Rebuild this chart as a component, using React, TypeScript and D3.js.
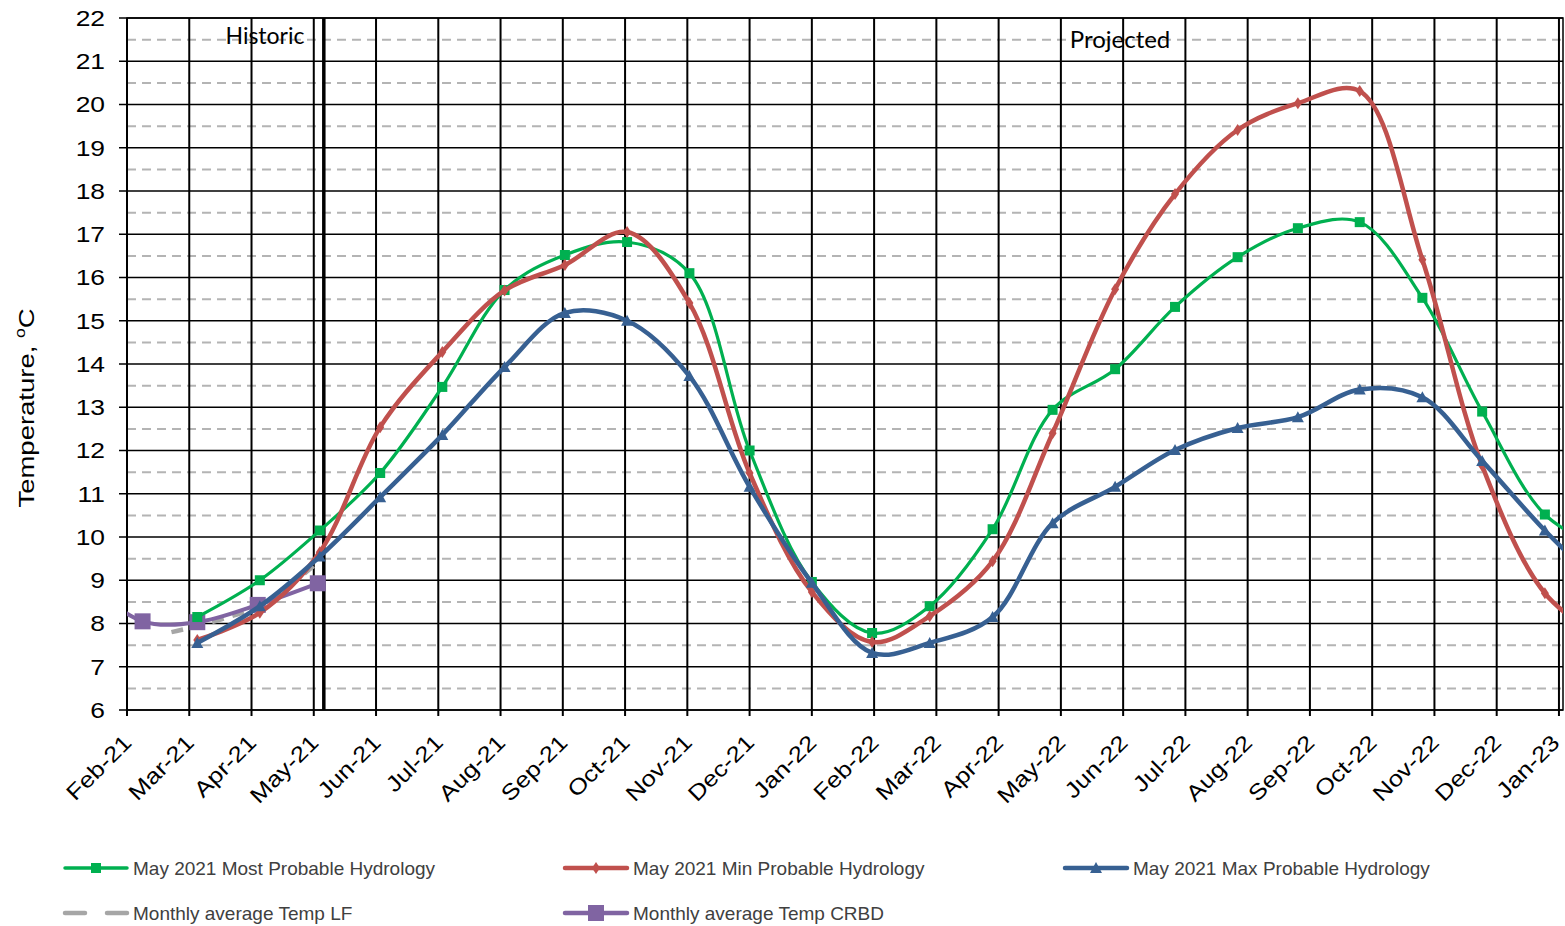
import React from "react";
import * as d3 from "d3";

// month ticks on the x axis
const monthLabels = [
  "Feb-21", "Mar-21", "Apr-21", "May-21", "Jun-21", "Jul-21", "Aug-21", "Sep-21",
  "Oct-21", "Nov-21", "Dec-21", "Jan-22", "Feb-22", "Mar-22", "Apr-22", "May-22",
  "Jun-22", "Jul-22", "Aug-22", "Sep-22", "Oct-22", "Nov-22", "Dec-22", "Jan-23",
];

// dates shared by the three hydrology runs
const hydroDates = [
  "2021-03-05", "2021-04-05", "2021-05-04", "2021-06-03", "2021-07-03", "2021-08-03",
  "2021-09-02", "2021-10-02", "2021-11-02", "2021-12-01", "2022-01-01", "2022-01-31",
  "2022-02-26", "2022-03-29", "2022-04-27", "2022-05-28", "2022-06-26", "2022-07-27",
  "2022-08-26", "2022-09-25", "2022-10-26", "2022-11-24", "2022-12-25", "2023-01-24",
];
const mostProbable = [
  8.15, 9.0, 10.15, 11.48, 13.47, 15.71, 16.52, 16.82, 16.1, 12.0, 8.96, 7.78,
  8.4, 10.18, 12.94, 13.88, 15.32, 16.47, 17.14, 17.28, 15.53, 12.9, 10.52, 9.7,
];
const minProbable = [
  7.62, 8.25, 9.65, 12.54, 14.28, 15.7, 16.29, 17.05, 15.41, 11.48, 8.73, 7.57,
  8.17, 9.44, 12.4, 15.73, 17.93, 19.41, 20.03, 20.31, 16.41, 11.65, 8.7, 7.6,
];
const maxProbable = [
  7.55, 8.4, 9.55, 10.92, 12.36, 13.93, 15.18, 15.0, 13.72, 11.16, 8.94, 7.32,
  7.55, 8.15, 10.32, 11.16, 12.01, 12.52, 12.77, 13.41, 13.23, 11.76, 10.15, 8.8,
];

// observed monthly averages
const lfDates = ["2021-02-21", "2021-04-04", "2021-05-04"];
const lfTemps = [7.8, 8.4, 9.45];
const crbdDates = ["2021-01-10", "2021-02-08", "2021-03-05", "2021-04-04", "2021-05-03"];
const crbdTemps = [9.0, 8.05, 8.03, 8.43, 8.93];

const dividerDate = "2021-05-06";

const W = 1565;
const H = 926;
const left = 127;
const right = 1563;
const top = 18;
const bottom = 710;

// fractional month index counted from Feb-21
const monthPos = (s: string) => {
  const d = new Date(s + "T00:00:00");
  const y = d.getFullYear();
  const m = d.getMonth();
  const dim = new Date(y, m + 1, 0).getDate();
  return (y - 2021) * 12 + m - 1 + (d.getDate() - 1) / dim;
};

const x = d3.scaleLinear().domain([0, 23.065]).range([left, right]);
const y = d3.scaleLinear().domain([6, 22]).range([bottom, top]);

type Pt = { t: number; v: number };
const toPts = (dates: string[], vals: number[]): Pt[] =>
  dates.map((d, i) => ({ t: monthPos(d), v: vals[i] }));

const line = d3
  .line<Pt>()
  .x((d) => x(d.t))
  .y((d) => y(d.v))
  .curve(d3.curveCatmullRom.alpha(0.5));

const series = [
  { key: "most", label: "May 2021 Most Probable Hydrology", color: "#00B050", width: 3.2, marker: "square", pts: toPts(hydroDates, mostProbable) },
  { key: "min", label: "May 2021 Min Probable Hydrology", color: "#C0504D", width: 4.5, marker: "diamond", pts: toPts(hydroDates, minProbable) },
  { key: "max", label: "May 2021 Max Probable Hydrology", color: "#376092", width: 4.5, marker: "triangle", pts: toPts(hydroDates, maxProbable) },
];
const lfSeries = { label: "Monthly average Temp LF", color: "#A6A6A6", pts: toPts(lfDates, lfTemps) };
const crbdSeries = { label: "Monthly average Temp CRBD", color: "#8064A2", pts: toPts(crbdDates, crbdTemps) };

const Marker = ({ type, cx, cy, color }: { type: string; cx: number; cy: number; color: string }) => {
  if (type === "square") return <rect x={cx - 5} y={cy - 5} width={10} height={10} fill={color} />;
  if (type === "bigsquare") return <rect x={cx - 8} y={cy - 8} width={16} height={16} fill={color} />;
  if (type === "diamond")
    return <path d={`M${cx},${cy - 6}L${cx + 4},${cy}L${cx},${cy + 6}L${cx - 4},${cy}Z`} fill={color} />;
  return <path d={`M${cx},${cy - 6}L${cx + 6},${cy + 5}L${cx - 6},${cy + 5}Z`} fill={color} />;
};

export default function App() {
  const majors = d3.range(6, 23);
  const halves = d3.range(6.5, 22, 1);
  const font = "'Liberation Sans', Arial, sans-serif";

  const legendRows = [
    { x: 65, y: 868, label: series[0].label, color: series[0].color, marker: "square", w: 3.5 },
    { x: 565, y: 868, label: series[1].label, color: series[1].color, marker: "diamond", w: 4.5 },
    { x: 1065, y: 868, label: series[2].label, color: series[2].color, marker: "triangle", w: 4.5 },
    { x: 65, y: 913, label: lfSeries.label, color: lfSeries.color, marker: "dash", w: 4.5 },
    { x: 565, y: 913, label: crbdSeries.label, color: crbdSeries.color, marker: "bigsquare", w: 4.5 },
  ];

  return (
    <svg width={W} height={H} style={{ position: "absolute", left: 0, top: 0, background: "#fff" }} fontFamily={font}>
      <defs>
        <clipPath id="plot">
          <rect x={left} y={top} width={right - left} height={bottom - top} />
        </clipPath>
      </defs>

      {/* half-degree dashed gridlines */}
      {halves.map((v) => (
        <line key={"h" + v} x1={left} x2={right} y1={y(v)} y2={y(v)} stroke="#B4B4B4" strokeWidth={2} strokeDasharray="9,6" />
      ))}
      {/* whole-degree gridlines */}
      {majors.map((v) => (
        <line key={"m" + v} x1={left - 8} x2={right} y1={y(v)} y2={y(v)} stroke="#000" strokeWidth={1.3} />
      ))}
      {/* month gridlines */}
      {monthLabels.map((m, i) => (
        <line key={m} x1={x(i)} x2={x(i)} y1={top} y2={bottom + 6} stroke="#000" strokeWidth={2} />
      ))}
      <rect x={left} y={top} width={right - left} height={bottom - top} fill="none" stroke="#000" strokeWidth={1.5} />
      <line x1={x(monthPos(dividerDate))} x2={x(monthPos(dividerDate))} y1={top} y2={bottom} stroke="#000" strokeWidth={3.5} />

      {/* y tick labels */}
      {majors.map((v) => (
        <text key={"yl" + v} transform={`translate(105,${y(v)}) scale(1.2,1)`} dy="0.36em" textAnchor="end" fontSize={22} fill="#000">
          {v}
        </text>
      ))}
      {/* x tick labels */}
      {monthLabels.map((m, i) => (
        <text key={"xl" + m} transform={`translate(${Math.min(x(i) + 6, 1561)},744) rotate(-45) scale(1.17,1)`} textAnchor="end" fontSize={22} fill="#000">
          {m}
        </text>
      ))}
      <text transform="translate(34,408) rotate(-90) scale(1.25,1)" textAnchor="middle" fontSize={22} fill="#000">
        Temperature, <tspan fontSize={14} dy="-9">o</tspan><tspan dy="9">C</tspan>
      </text>

      <text x={265} y={44} textAnchor="middle" fontSize={23} fontFamily="Lato, 'Open Sans', sans-serif" fill="#000">
        Historic
      </text>
      <text x={1120} y={48} textAnchor="middle" fontSize={24} fontFamily="Lato, 'Open Sans', sans-serif" fill="#000">
        Projected
      </text>

      <g clipPath="url(#plot)">
        <path d={line(lfSeries.pts) ?? ""} fill="none" stroke={lfSeries.color} strokeWidth={4.5} strokeDasharray="12,9" />
        <path d={line(crbdSeries.pts) ?? ""} fill="none" stroke={crbdSeries.color} strokeWidth={4} />
        {crbdSeries.pts.map((p, i) => (
          <Marker key={"c" + i} type="bigsquare" cx={x(p.t)} cy={y(p.v)} color={crbdSeries.color} />
        ))}
        {series.map((s) => (
          <g key={s.key}>
            <path d={line(s.pts) ?? ""} fill="none" stroke={s.color} strokeWidth={s.width} strokeLinejoin="round" />
            {s.pts.map((p, i) => (
              <Marker key={i} type={s.marker} cx={x(p.t)} cy={y(p.v)} color={s.color} />
            ))}
          </g>
        ))}
      </g>

      {/* legend */}
      {legendRows.map((r) => (
        <g key={r.label}>
          {r.marker === "dash" ? (
            <>
              <line x1={r.x} x2={r.x + 20} y1={r.y} y2={r.y} stroke={r.color} strokeWidth={r.w} strokeLinecap="round" />
              <line x1={r.x + 42} x2={r.x + 62} y1={r.y} y2={r.y} stroke={r.color} strokeWidth={r.w} strokeLinecap="round" />
            </>
          ) : (
            <>
              <line x1={r.x} x2={r.x + 62} y1={r.y} y2={r.y} stroke={r.color} strokeWidth={r.w} strokeLinecap="round" />
              <Marker type={r.marker} cx={r.x + 31} cy={r.y} color={r.color} />
            </>
          )}
          <text x={r.x + 68} y={r.y} dy="0.36em" fontSize={19} fill="#404040">
            {r.label}
          </text>
        </g>
      ))}
    </svg>
  );
}
